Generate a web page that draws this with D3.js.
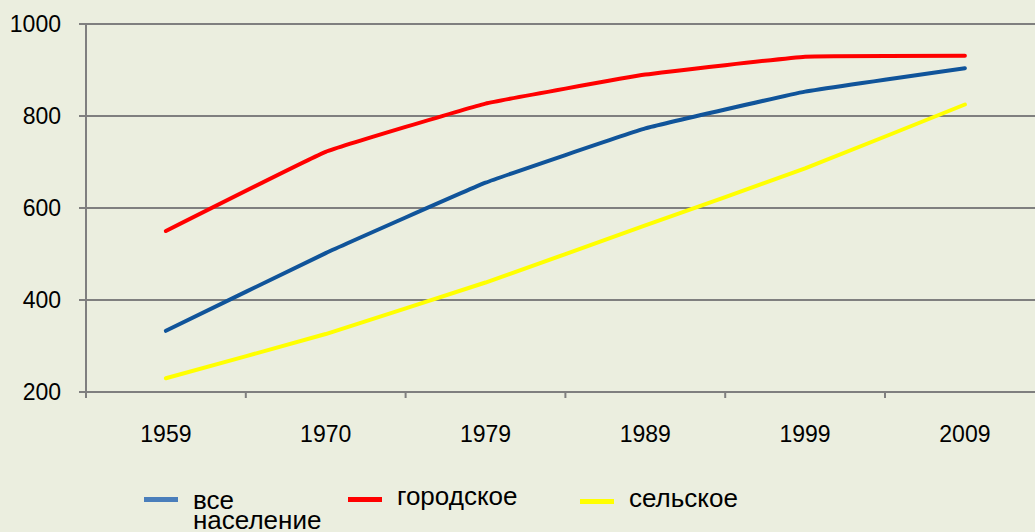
<!DOCTYPE html>
<html>
<head>
<meta charset="utf-8">
<script src="https://cdn.jsdelivr.net/npm/d3@7"></script>
<style>
  html, body { margin: 0; padding: 0; background: #ebeedf; }
  svg { display: block; font-family: "Liberation Sans", Arial, sans-serif; }
</style>
</head>
<body>
<svg id="chart" width="1035" height="532"></svg>
<script>
const categories = ["1959", "1970", "1979", "1989", "1999", "2009"];
const totalPop = [333, 502, 655, 773, 853, 904];
const urbanPop = [550, 722, 827, 890, 929, 931];
const ruralPop = [230, 326, 438, 562, 686, 825];
const yTicks = [200, 400, 600, 800, 1000];
const seriesNames = ["все население", "городское", "сельское"];

(function () {
const W = 1035, H = 532;
const plotLeft = 86, plotTop = 24, plotBottom = 392;
const svg = d3.select("#chart");
svg.append("rect").attr("width", W).attr("height", H).attr("fill", "#ebeedf");

const x = d3.scaleBand().domain(categories).range([plotLeft, plotLeft + 6 * 159.8]).padding(0);
const y = d3.scaleLinear().domain([200, 1000]).range([plotBottom, plotTop]);

const gridColor = "#7f7f7f";

// gridlines
svg.append("g").selectAll("line").data(yTicks).join("line")
  .attr("x1", plotLeft - 7).attr("x2", W)
  .attr("y1", d => y(d)).attr("y2", d => y(d))
  .attr("stroke", gridColor).attr("stroke-width", 2);

// y axis line
svg.append("line").attr("x1", plotLeft).attr("x2", plotLeft)
  .attr("y1", plotTop).attr("y2", plotBottom + 6)
  .attr("stroke", gridColor).attr("stroke-width", 2);

// y labels
svg.append("g").selectAll("text").data(yTicks).join("text")
  .attr("x", 61).attr("y", d => y(d)).attr("dy", "0.36em")
  .attr("text-anchor", "end").attr("font-size", 23).attr("fill", "#000")
  .text(d => d);

// x tick marks at band boundaries
const bounds = categories.map(c => x(c)).concat([x(categories[categories.length - 1]) + x.bandwidth()]);
svg.append("g").selectAll("line").data(bounds).join("line")
  .attr("x1", d => d).attr("x2", d => d)
  .attr("y1", plotBottom).attr("y2", plotBottom + 6)
  .attr("stroke", gridColor).attr("stroke-width", 2);

// x labels
svg.append("g").selectAll("text").data(categories).join("text")
  .attr("x", d => x(d) + x.bandwidth() / 2).attr("y", 442)
  .attr("text-anchor", "middle").attr("font-size", 23).attr("fill", "#000")
  .text(d => d);

const cx = d => x(d) + x.bandwidth() / 2;
const line = d3.line().x((d, i) => cx(categories[i])).y(d => y(d)).curve(d3.curveCardinal.tension(0.75));

const series = [
  { vals: ruralPop, color: "#ffff00" },
  { vals: totalPop, color: "#10549a" },
  { vals: urbanPop, color: "#ff0000" }
];
series.forEach(s => {
  svg.append("path").datum(s.vals).attr("d", line)
    .attr("fill", "none").attr("stroke", s.color).attr("stroke-width", 4)
    .attr("stroke-linecap", "round").attr("stroke-linejoin", "round");
});

// legend
const legend = [
  { name: seriesNames[0], color: "#4a7ebb", sx: 144, sy: 499.5, tx: 193, ty: 509 },
  { name: seriesNames[1], color: "#ff0000", sx: 348, sy: 499.5, tx: 397, ty: 505 },
  { name: seriesNames[2], color: "#ffff00", sx: 580, sy: 501.5, tx: 629, ty: 507 }
];
legend.forEach(l => {
  svg.append("line").attr("x1", l.sx).attr("x2", l.sx + 34)
    .attr("y1", l.sy).attr("y2", l.sy)
    .attr("stroke", l.color).attr("stroke-width", 5);
  const words = l.name.split(" ");
  const t = svg.append("text").attr("x", l.tx).attr("y", l.ty)
    .attr("font-size", 26).attr("fill", "#000");
  words.forEach((w, i) => {
    t.append("tspan").attr("x", l.tx).attr("dy", i === 0 ? 0 : 20).text(w);
  });
});
})();
</script>
</body>
</html>
